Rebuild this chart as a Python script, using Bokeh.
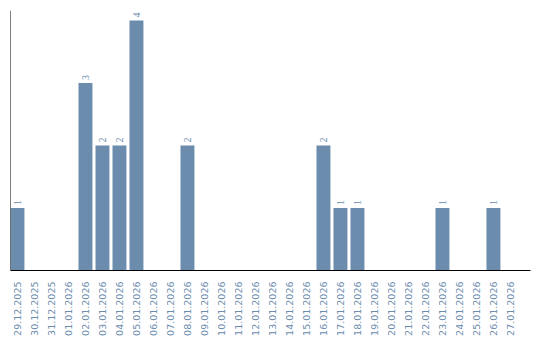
import math
from bokeh.plotting import figure
from bokeh.models import Range1d, FixedTicker, Span, ColumnDataSource
from bokeh.embed import file_html
from bokeh.resources import INLINE

dates = ["29.12.2025", "30.12.2025", "31.12.2025", "01.01.2026", "02.01.2026",
         "03.01.2026", "04.01.2026", "05.01.2026", "06.01.2026", "07.01.2026",
         "08.01.2026", "09.01.2026", "10.01.2026", "11.01.2026", "12.01.2026",
         "13.01.2026", "14.01.2026", "15.01.2026", "16.01.2026", "17.01.2026",
         "18.01.2026", "19.01.2026", "20.01.2026", "21.01.2026", "22.01.2026",
         "23.01.2026", "24.01.2026", "25.01.2026", "26.01.2026", "27.01.2026"]
counts = [1, 0, 0, 0, 3, 2, 2, 4, 0, 0, 2, 0, 0, 0, 0, 0, 0, 0, 2, 1, 1,
          0, 0, 0, 0, 1, 0, 0, 1, 0]

COLOR = "#6b8cad"
FONT = "DejaVu Sans"

idx = list(range(len(dates)))
p = figure(width=540, height=340, output_backend="svg", toolbar_location=None,
           x_range=Range1d(-0.41, 30.18), y_range=Range1d(0, 4.16),
           min_border_left=10, min_border_top=10, min_border_right=10,
           min_border_bottom=70)
p.outline_line_color = None
p.grid.visible = False
p.yaxis.visible = False

p.vbar(x=idx, top=counts, width=0.82, fill_color=COLOR, line_color=None)

lx = [i for i, c in zip(idx, counts) if c > 0]
ly = [c for c in counts if c > 0]
src = ColumnDataSource(dict(x=lx, y=ly, t=[str(c) for c in ly]))
p.text(x="x", y="y", text="t", source=src, angle=math.pi / 2,
       text_align="left", text_baseline="middle", y_offset=-3,
       text_color=COLOR, text_font_size="10px", text_font=FONT)

ax = p.xaxis[0]
ax.ticker = FixedTicker(ticks=idx)
ax.major_label_overrides = {i: d for i, d in enumerate(dates)}
ax.major_label_orientation = math.pi / 2
ax.major_tick_line_color = None
ax.minor_tick_line_color = None
ax.major_tick_out = 0
ax.major_tick_in = 0
ax.minor_tick_out = 0
ax.major_label_standoff = 11
ax.major_label_text_color = COLOR
ax.major_label_text_font = FONT
ax.major_label_text_font_size = "9.5px"
ax.axis_line_color = "black"

p.add_layout(Span(location=-0.41, dimension="height", line_color="black", line_width=1))

open("out.html", "w").write(file_html(p, INLINE))
